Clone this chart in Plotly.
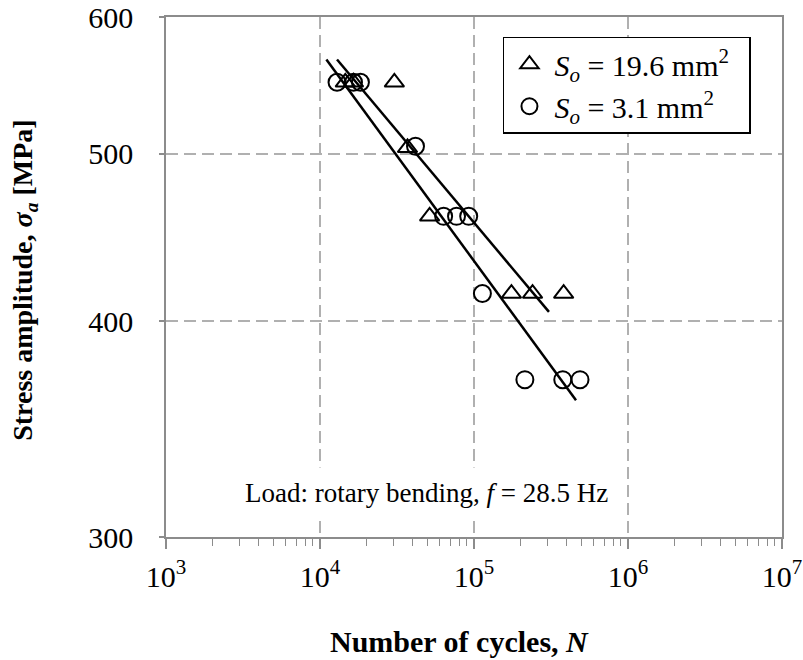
import plotly.graph_objects as go

# Data: S_o = 19.6 mm^2 (triangles)
tri_N = [14600, 16500, 30400, 37000, 51500, 175000, 240000, 382000]
tri_S = [550, 550, 550, 504, 460, 415, 415, 415]
# Data: S_o = 3.1 mm^2 (circles)
cir_N = [12900, 16500, 18300, 41700, 63500, 77000, 92400, 113400, 214000, 377000, 488000]
cir_S = [550, 550, 550, 505, 460, 460, 460, 415, 370, 370, 370]
# Fitted lines (endpoints)
tri_fit_N = [12900, 306700]
tri_fit_S = [567, 405]
cir_fit_N = [11000, 459700]
cir_fit_S = [567, 360]

x_tickvals = [1e3, 1e4, 1e5, 1e6, 1e7]
x_ticktext = ["10<sup>3</sup>", "10<sup>4</sup>", "10<sup>5</sup>", "10<sup>6</sup>", "10<sup>7</sup>"]
y_tickvals = [300, 400, 500, 600]
y_ticktext = ["300", "400", "500", "600"]

FONT = "Liberation Serif"
AXC = "#8c8c8c"
GRIDC = "#b0b0b0"

minor_x = [m * 10 ** e for e in range(3, 7) for m in range(2, 10)]

fig = go.Figure()
fig.add_trace(go.Scatter(x=tri_fit_N, y=tri_fit_S, mode="lines",
                         line=dict(color="black", width=2.5), showlegend=False))
fig.add_trace(go.Scatter(x=cir_fit_N, y=cir_fit_S, mode="lines",
                         line=dict(color="black", width=2.5), showlegend=False))
fig.add_trace(go.Scatter(x=tri_N, y=tri_S, mode="markers",
                         marker=dict(symbol="triangle-up-open", size=17, color="black",
                                     line=dict(width=2, color="black")),
                         name="<i>S<sub>o</sub></i> = 19.6 mm<sup>2</sup>&nbsp;&nbsp;"))
fig.add_trace(go.Scatter(x=cir_N, y=cir_S, mode="markers",
                         marker=dict(symbol="circle-open", size=17, color="black",
                                     line=dict(width=2, color="black")),
                         name="<i>S<sub>o</sub></i> = 3.1 mm<sup>2</sup>"))

fig.update_layout(
    width=803, height=660,
    margin=dict(l=166, r=21, t=17, b=123, autoexpand=False),
    paper_bgcolor="white", plot_bgcolor="white",
    font=dict(family=FONT, color="black", size=26),
    legend=dict(x=0.547, y=0.962, xanchor="left", yanchor="top",
                bordercolor="black", borderwidth=1.5, bgcolor="white",
                font=dict(size=30, family=FONT), itemwidth=40,
                tracegroupgap=0),
    xaxis=dict(type="log", range=[3, 7], tickvals=x_tickvals, ticktext=x_ticktext,
               showline=True, linecolor=AXC, linewidth=1.5, mirror=True,
               ticks="outside", ticklen=10, tickcolor=AXC, tickwidth=1.5,
               minor=dict(tickvals=minor_x, ticks="outside", ticklen=7,
                          tickcolor=AXC, tickwidth=1.2, showgrid=False),
               showgrid=True, gridcolor=GRIDC, gridwidth=1.5, griddash="12px,6px",
               tickfont=dict(size=30, family=FONT), zeroline=False, automargin=False,
               ticklabelstandoff=2),
    yaxis=dict(type="log", range=[2.4771213, 2.7781513], tickvals=y_tickvals,
               ticktext=y_ticktext,
               showline=True, linecolor=AXC, linewidth=1.5, mirror=True,
               ticks="outside", ticklen=5, tickcolor=AXC, tickwidth=1.5,
               showgrid=True, gridcolor=GRIDC, gridwidth=1.5, griddash="12px,6px",
               tickfont=dict(size=30, family=FONT), zeroline=False, automargin=False,
               ticklabelstandoff=20),
    annotations=[
        dict(text="Load: rotary bending, <i>f</i> = 28.5 Hz", xref="paper", yref="paper",
             x=0.4235, y=0.085, xanchor="center", yanchor="middle", showarrow=False,
             bgcolor="white", borderpad=10, font=dict(size=27, family=FONT)),
        dict(text="<b>Number of cycles, <i>N</i></b>", xref="paper", yref="paper",
             x=0.477, y=-0.2006, xanchor="center", yanchor="middle", showarrow=False,
             font=dict(size=30, family=FONT)),
        dict(text="<b>Stress amplitude, <i>σ<sub>a</sub></i> [MPa]</b>", xref="paper", yref="paper",
             x=-0.2296, y=0.4937, xanchor="center", yanchor="middle", showarrow=False,
             textangle=-90, font=dict(size=28, family=FONT)),
    ],
)

fig.write_html("out.html", config={"displayModeBar": False},
               post_script="document.body.style.margin='0';document.body.style.overflow='hidden';")
